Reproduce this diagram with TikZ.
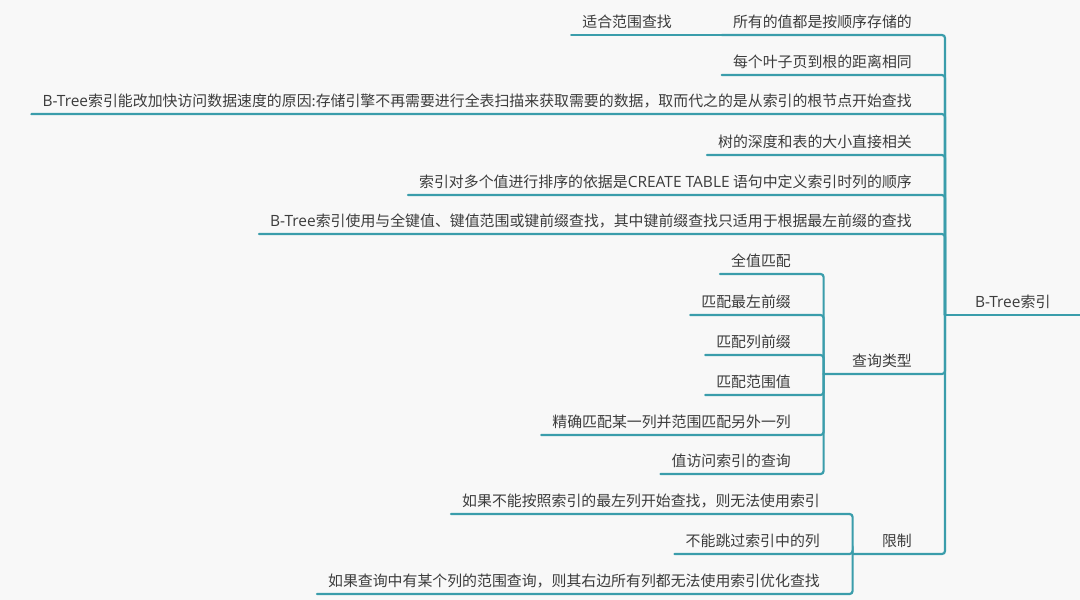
\documentclass[tikz,border=0pt]{standalone}
\usepackage{fontspec}
\setmainfont{Noto Sans CJK SC}
\newfontfamily\latfont[Scale=1.04]{Open Sans}
\newcommand{\lat}[1]{{\latfont #1}}
\definecolor{br}{HTML}{3A9DAB}
\definecolor{tx}{HTML}{3C3C3C}
\definecolor{bg}{HTML}{F8F8F8}
\tikzset{
  lbl/.style={anchor=south east, inner xsep=11pt, inner ysep=7.5pt, text depth=0pt,
    text=tx, font=\fontsize{14.9}{18}\selectfont},
  branch/.style={draw=br, line width=2.2pt, rounded corners=3pt, line cap=round}
}
\begin{document}
\begin{tikzpicture}[x=1pt,y=-1pt]
\fill[bg] (0,0) rectangle (1080,600);
\useasboundingbox (0,0) rectangle (1080,600);
% root
\node[lbl, anchor=south west, minimum width=135pt, inner xsep=0pt] (root) at (945,315) {\lat{B-Tree}索引};
% first level
\node[lbl] (a1) at (923,35) {所有的值都是按顺序存储的};
\node[lbl] (c1) at (683,35) {适合范围查找};
\node[lbl] (a2) at (923,75) {每个叶子页到根的距离相同};
\node[lbl] (a3) at (923,114) {\lat{B-Tree}索引能改加快访问数据速度的原因:存储引擎不再需要进行全表扫描来获取需要的数据，取而代之的是从索引的根节点开始查找};
\node[lbl] (a4) at (923,155) {树的深度和表的大小直接相关};
\node[lbl] (a5) at (923,195) {索引对多个值进行排序的依据是\lat{CREATE TABLE} 语句中定义索引时列的顺序};
\node[lbl] (a6) at (923,234) {\lat{B-Tree}索引使用与全键值、键值范围或键前缀查找，其中键前缀查找只适用于根据最左前缀的查找};
\node[lbl, text width=77pt, align=right] (q) at (923,374) {查询类型};
\node[lbl, text width=48pt, align=right] (lim) at (923,554) {限制};
% query types
\node[lbl] (q1) at (802,274) {全值匹配};
\node[lbl] (q2) at (802,315) {匹配最左前缀};
\node[lbl] (q3) at (802,355) {匹配列前缀};
\node[lbl] (q4) at (802,395) {匹配范围值};
\node[lbl] (q5) at (802,435) {精确匹配某一列并范围匹配另外一列};
\node[lbl] (q6) at (802,474) {值访问索引的查询};
% limits
\node[lbl] (l1) at (831,514) {如果不能按照索引的最左列开始查找，则无法使用索引};
\node[lbl] (l2) at (831,554) {不能跳过索引中的列};
\node[lbl] (l3) at (831,594) {如果查询中有某个列的范围查询，则其右边所有列都无法使用索引优化查找};
% connectors
\draw[branch] (root.south west) -- (root.south east);
\foreach \n in {a1,a2,a3,a4,a5,a6,q,lim}
  \draw[branch] (root.south west) |- (\n.south west);
\draw[branch] (a1.south west) -- (c1.south west);
\foreach \n in {q1,q2,q3,q4,q5,q6}
  \draw[branch] (q.south west) |- (\n.south west);
\foreach \n in {l1,l2,l3}
  \draw[branch] (lim.south west) |- (\n.south west);
\end{tikzpicture}
\end{document}
